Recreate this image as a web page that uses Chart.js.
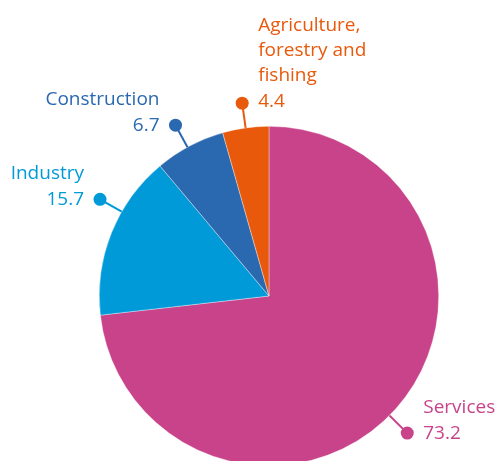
<!DOCTYPE html>
<html>
<head>
<meta charset="utf-8">
<script src="https://cdn.jsdelivr.net/npm/chart.js@4/dist/chart.umd.min.js"></script>
<style>
html,body{margin:0;padding:0;background:#fff;overflow:hidden;}
#wrap{position:relative;width:495px;height:470px;}
</style>
</head>
<body>
<div id="wrap"><canvas id="c"></canvas></div>
<script>
const categories = ["Services", "Industry", "Construction", "Agriculture, forestry and fishing"];
const labelLines = [["Services"], ["Industry"], ["Construction"], ["Agriculture,", "forestry and", "fishing"]];
const values = [73.2, 15.7, 6.7, 4.4];
const valueLabels = ["73.2", "15.7", "6.7", "4.4"];
const colors = ["#c8438a", "#009ad9", "#2a69b0", "#e8590c"];

const calloutPlugin = {
  id: 'callouts',
  afterDatasetsDraw(chart, args, opts) {
    const ctx = chart.ctx;
    const meta = chart.getDatasetMeta(0);
    meta.data.forEach((arc, i) => {
      const nudge = (opts.nudge[i] || 0) * Math.PI / 180;
      const ang = (arc.startAngle + arc.endAngle) / 2 + nudge;
      const r0 = arc.outerRadius;
      const r1 = r0 + opts.extend;
      const x0 = arc.x + Math.cos(ang) * r0, y0 = arc.y + Math.sin(ang) * r0;
      const x1 = arc.x + Math.cos(ang) * r1, y1 = arc.y + Math.sin(ang) * r1;
      const col = colors[i];
      ctx.save();
      ctx.strokeStyle = col; ctx.lineWidth = 2;
      ctx.beginPath(); ctx.moveTo(x0, y0); ctx.lineTo(x1, y1); ctx.stroke();
      ctx.fillStyle = col;
      ctx.beginPath(); ctx.arc(x1, y1, 6.5, 0, Math.PI * 2); ctx.fill();
      const right = opts.sides[i] === 'right';
      const tx = right ? x1 + 16 : x1 - 16;
      ctx.textAlign = right ? 'left' : 'right';
      ctx.textBaseline = 'middle';
      ctx.font = opts.font;
      const vy = y1 + (opts.vshift[i] || 0);
      ctx.fillText(valueLabels[i], tx, vy);
      const lines = labelLines[i];
      for (let k = 0; k < lines.length; k++) {
        const ly = vy - 26 - (lines.length - 1 - k) * 25;
        ctx.fillText(lines[k], tx, ly);
      }
      ctx.restore();
    });
  }
};

new Chart(document.getElementById('c'), {
  type: 'pie',
  data: {
    labels: categories,
    datasets: [{
      data: values,
      backgroundColor: colors,
      borderColor: 'rgba(255,255,255,0.6)',
      borderWidth: 0.6
    }]
  },
  options: {
    responsive: true,
    maintainAspectRatio: false,
    animation: false,
    layout: { padding: { left: 99, right: 56, top: 126, bottom: 4 } },
    plugins: {
      legend: { display: false },
      tooltip: { enabled: false },
      callouts: {
        extend: 25,
        nudge: [3, 8, -0.8, 0],
        sides: ['right', 'left', 'left', 'right'],
        vshift: [0, 0, 0, -2],
        font: '19px "Open Sans", "Noto Sans", sans-serif'
      }
    }
  },
  plugins: [calloutPlugin]
});
</script>
</body>
</html>
